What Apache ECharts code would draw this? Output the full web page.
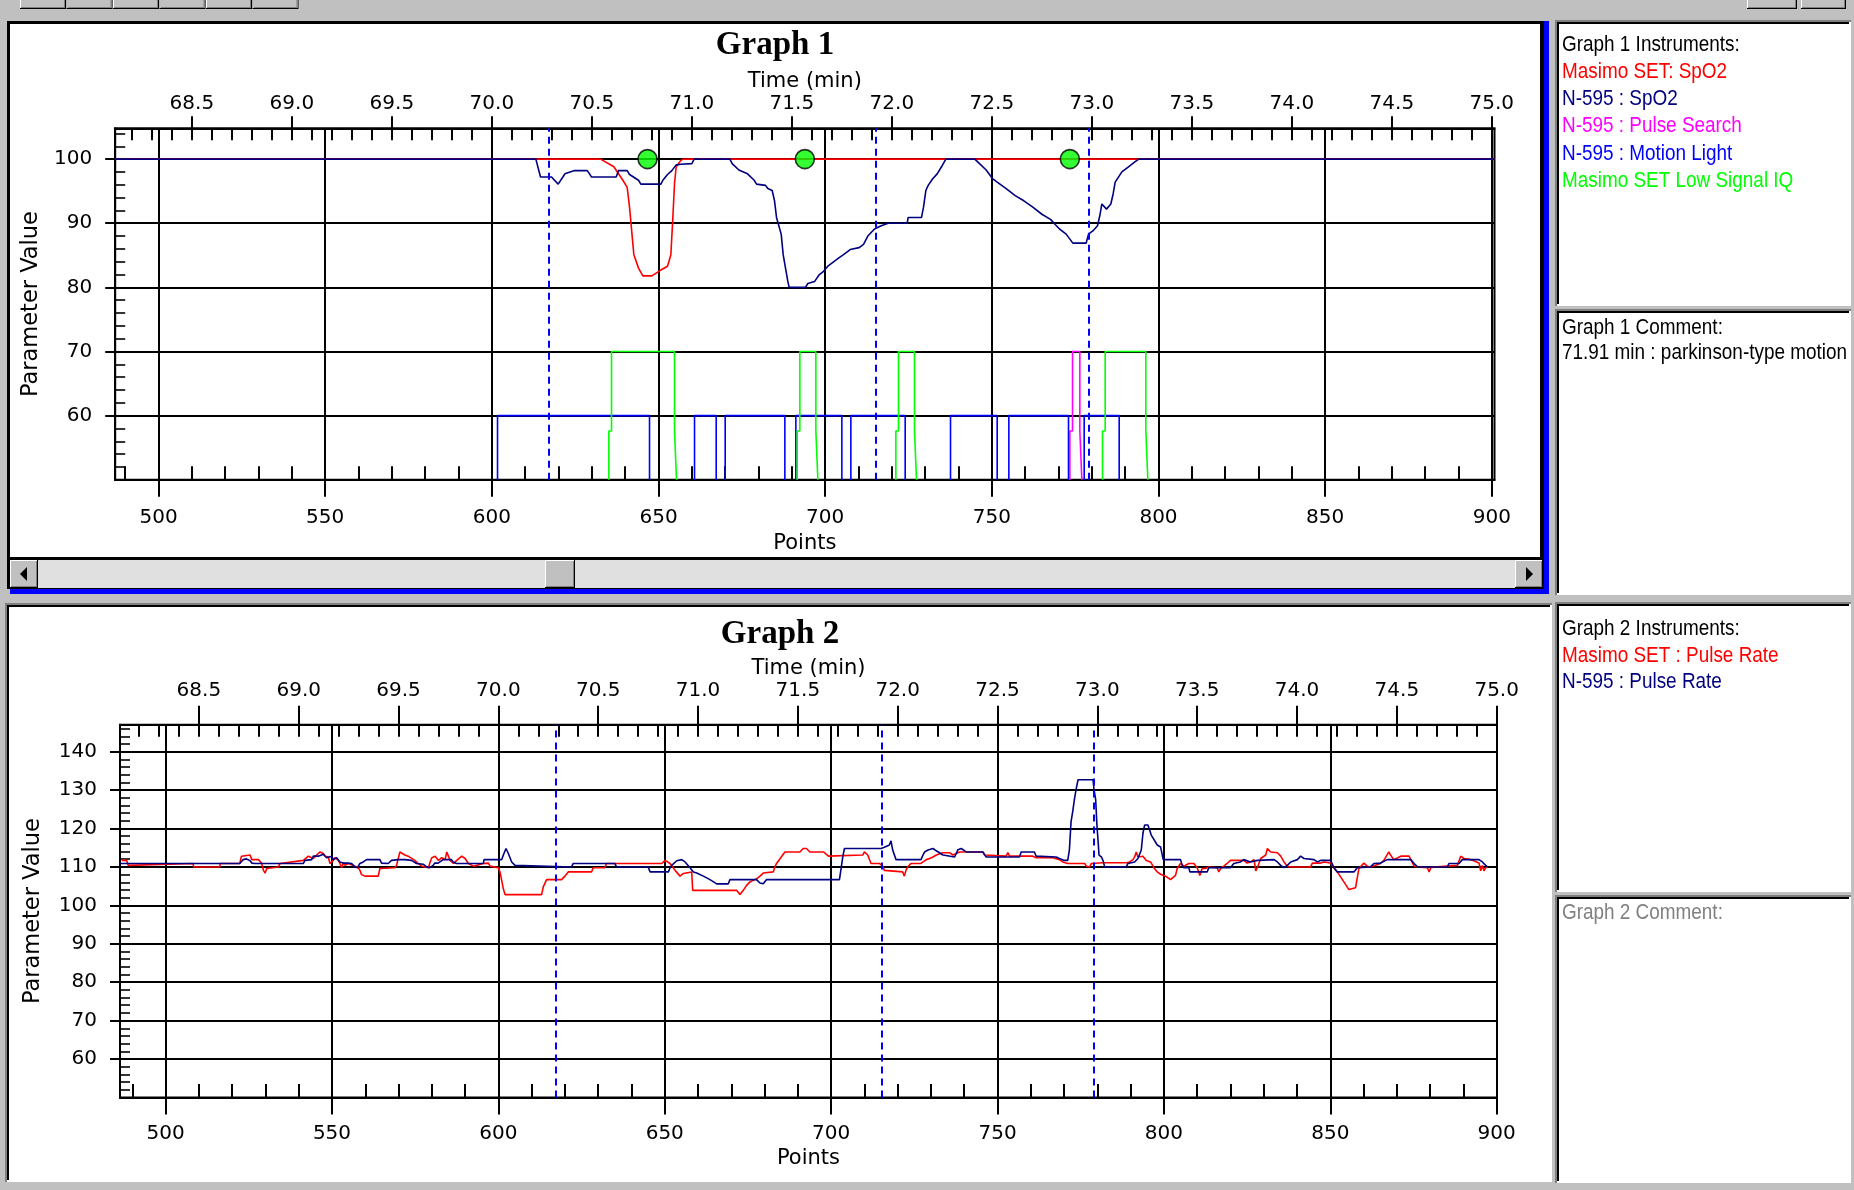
<!DOCTYPE html>
<html><head><meta charset="utf-8">
<script src="https://cdn.jsdelivr.net/npm/echarts@6.0.0/dist/echarts.min.js"></script>
<style>html,body{margin:0;padding:0;background:#c0c0c0;overflow:hidden}#c{width:1854px;height:1190px}</style>
</head><body><div id="c"></div>
<script>
// ---------------- DATA ----------------
const pointTicks = [500, 550, 600, 650, 700, 750, 800, 850, 900];
const timeTickLabels = ['68.5','69.0','69.5','70.0','70.5','71.0','71.5','72.0','72.5','73.0','73.5','74.0','74.5','75.0'];
const spo2Ticks = [60, 70, 80, 90, 100];
const prTicks = [60, 70, 80, 90, 100, 110, 120, 130, 140];

// Graph 1 : SpO2 traces [point, value]
const masimoSpO2 = [[487,100],[632.6,100],[636.6,98.8],[639.3,96.7],[640.6,95.6],[641.3,92.5],[642.6,85.1],[644,83],[645.3,81.8],[648,81.8],[650.7,82.7],[652.7,83.3],[653.7,85.1],[654.3,90.9],[654.8,96.2],[655.3,98.8],[656.7,99.8],[657.4,100],[900.8,100]];
const n595SpO2 = [[487,100],[613.2,100],[614.6,97.2],[617.9,97.2],[619.9,96.1],[621.3,97.2],[621.9,97.7],[624.6,98.2],[628.6,98.2],[629.3,97.7],[629.9,97.2],[637.3,97.2],[638,98.2],[640.6,98.2],[641.3,97.6],[644,96.7],[644.7,96.1],[650.7,96.1],[651.3,96.7],[652.7,97.6],[654,98.2],[655.3,99.1],[656.7,99.2],[660,99.3],[660.7,100],[671.4,100],[672.1,99.3],[674.1,98.3],[676.7,97.7],[678.7,96.7],[679.4,96.1],[682.1,95.9],[682.8,95.4],[684.1,95.1],[684.8,93.5],[685.4,90.9],[686.8,88.3],[687.4,85.1],[688.1,83],[688.8,80.9],[689.2,80],[694.1,80],[694.8,80.6],[696.8,80.9],[698.1,81.9],[699.5,82.5],[700.8,83.3],[702.8,84.1],[704.1,84.6],[705.5,85.1],[707.5,85.9],[710.2,86.2],[711.5,86.7],[712.8,88],[714.8,89.1],[716.8,89.6],[718.9,90],[724.6,90],[724.9,90.9],[728.9,90.9],[729.5,92.5],[730.2,95.1],[730.9,95.9],[732.2,96.9],[733.6,97.7],[734.9,98.8],[736.2,100],[744.9,100],[746.3,99.3],[748.3,98.3],[750.3,96.9],[751.6,96.4],[754.3,95.4],[757,94.3],[759.6,93.5],[762.3,92.5],[765,91.4],[767.6,90.6],[769,89.8],[770.3,89.1],[772.3,88.3],[774.3,86.9],[778.3,86.9],[779,88.3],[780.3,88.8],[781.7,89.6],[782.4,91.2],[783,93],[784.4,92.2],[785.7,93],[786.4,94.6],[787,96.4],[789,98],[791,98.8],[793,99.6],[794.1,100],[900.8,100]];

// Graph 1 : on/off indicators, [start point, end point] of each "on" period
const motionLightOn = [[601.7,647.3],[660.8,667.3],[670.0,687.9],[691.2,705.0],[707.7,724.0],[737.6,751.6],[755.1,773.0],[777.7,788.2]];
const lowSignalIQOn = [[635.1,654.8],[691.6,697.2],[721.2,726.8],[783.2,796.2]];
const pulseSearchOn = [[773.4,776.4]];
const alarmPoints = [646.7, 693.9, 773.4];
const eventMarks = [617.2, 715.2, 779.0];

// Graph 2 : pulse rate traces [point, value]
const masimoPR = [[486.8,111.7],[488.3,111.7],[488.8,110.4],[489.3,110.9],[508.3,110.9],[508.4,110],[516.3,110],[516.4,110.9],[522.3,110.9],[522.8,112.8],[523.3,113.1],[525.4,113.1],[525.9,111.9],[527.9,111.9],[528.9,110.9],[529.4,109.1],[529.9,108.4],[530.4,109.6],[530.9,110],[533.9,110],[534.4,110.9],[541.4,111.7],[542.9,112.8],[544.4,112.2],[544.9,111.7],[545.4,113.1],[545.9,112.6],[546.4,113.9],[547.4,113.5],[547.9,112.8],[548.9,112.6],[549.4,110.9],[550.4,111.7],[550.9,112.4],[551.4,112.8],[551.9,111.7],[552.4,110.9],[552.9,109.8],[553.4,111],[553.9,110.4],[554.9,110.9],[556.9,110.2],[557.9,109.8],[558.4,109.1],[558.9,108],[559.9,107.6],[563.9,107.6],[564.4,109.6],[564.9,109.8],[568.9,109.8],[569.4,110.4],[570.4,113.9],[571.9,113.1],[572.9,112.8],[574.9,111.7],[575.9,110.9],[577,110.2],[579,109.8],[579.5,111.3],[580,112.4],[581,112.8],[582,111.7],[583,112.4],[584,111.9],[584.5,113.9],[585,113.5],[585.5,111.7],[586.5,110.9],[587.5,111.7],[589,112.8],[590,112.2],[591,110.9],[592.5,110.2],[595.5,110.9],[597,111],[597.5,110.2],[600,109.8],[600.5,108.7],[601,106.5],[601.5,104.3],[602,102.8],[613,102.8],[613.5,104.8],[614.5,106.7],[619,106.7],[620,107.6],[621,108.7],[628,108.7],[628.5,109.8],[632,109.8],[632.5,110.9],[649.1,110.9],[650.1,111.7],[651.6,110.9],[653.1,109.1],[654.6,107.6],[655.6,108.3],[658.1,108.7],[658.4,103.9],[671.6,103.9],[672.6,102.8],[673.6,103.9],[674.6,105.2],[675.6,106.1],[676.6,106.5],[677.6,106.9],[678.6,107.6],[679.6,108.4],[682.6,108.7],[683.1,110],[683.6,110.9],[686.1,113.9],[690.6,113.9],[691.6,114.8],[692.6,114.8],[693.6,113.9],[697.7,113.9],[699.2,112.8],[709.5,113.1],[710,113.9],[711,113.1],[712,110.9],[714.5,110.9],[715.5,110.2],[716,109.1],[716.5,108.7],[721.5,108.7],[722,107.6],[722.5,109.1],[723,110],[724,110.9],[727,110.9],[727.6,111.3],[728.6,111.9],[729.6,112.2],[730.6,112.6],[731.6,113.1],[733.6,113.7],[735.6,113.7],[736.6,113.1],[737.1,112.6],[737.6,113.5],[738.6,113.9],[745.6,113.9],[746.1,113.1],[752.6,112.8],[753.1,113.7],[753.6,112.8],[760.6,112.8],[761.6,112.4],[766.6,112.4],[768.6,111.9],[769.6,111.3],[771.1,110.9],[776.2,110.9],[776.7,110.2],[777.7,110],[778.2,110.9],[781.7,111.1],[788.7,111.1],[789.7,111.3],[790.7,111.9],[791.2,112.6],[791.7,113.9],[792.2,112.6],[792.7,113.1],[793.7,112.8],[794.7,111.7],[796,111.3],[797,109.8],[798,108.7],[799,108.1],[800.5,107.6],[802,106.7],[802.5,106.7],[803.5,107.8],[804,109.6],[805,110.9],[806,110.2],[807.5,110.9],[809,110.9],[810,109.8],[810.8,107.8],[811.5,109.6],[812.5,109.6],[813.5,110],[816,109.8],[816.5,108.7],[817.2,109.8],[818,110.2],[819,110.9],[820,111.7],[824,111.7],[825,111],[826,111.3],[827.1,111.9],[827.6,109],[828.1,109.8],[829.1,112.2],[830.6,113.1],[831.1,114.8],[832.1,113.9],[834.1,113.7],[835.1,112.8],[836.1,111.3],[837.1,110.2],[838.1,110],[844.1,110],[844.6,111],[847.1,111],[848.1,111.3],[850.1,111],[851.1,109.8],[852.1,108.7],[853.1,107.4],[854.1,106.1],[855.6,104.1],[856.1,104.3],[857.6,104.6],[858.6,109.6],[859.1,110],[860.1,111],[861.1,110.2],[862.1,110],[865.1,110.9],[866.1,111.7],[866.6,112.2],[867.6,113.9],[868.1,113.1],[869.1,111.9],[871.2,112.8],[873.7,112.8],[874.2,111.9],[875.2,110.2],[876.2,110],[879.2,109.8],[879.7,108.7],[880.2,109.8],[881.2,110],[888.2,110.4],[889.2,112.8],[890.2,112.2],[892.2,111.9],[894.7,111],[895.2,109],[895.7,110.4],[896.2,109],[896.7,109.8],[897.2,110]];
const n595PR = [[486.3,110.9],[522.3,110.9],[523.3,111.9],[524.3,112.1],[525.4,111.6],[525.9,111],[526.9,110.9],[541.4,110.9],[541.9,111.7],[543.9,111.9],[544.4,112.8],[545.9,112.8],[546.4,113.3],[547.4,113.3],[548.4,112.4],[549.9,112.8],[550.4,111.9],[550.9,111.7],[551.4,112.4],[551.9,111.9],[552.4,111.3],[553.4,111],[554.9,111],[555.9,110.9],[556.9,110],[557.7,109.8],[558.4,110.9],[559.4,111.3],[560.4,111.9],[564.4,111.9],[564.9,111],[566.9,110.9],[567.9,111.7],[569.9,111.9],[571.9,111.9],[573.9,111.7],[575.4,110.9],[577.4,110.7],[578.4,110],[579.4,109.8],[580.4,110.4],[580.9,111],[581.9,111],[583.4,111.9],[585.9,111.9],[586.4,111.3],[587.4,110.9],[595.5,110.9],[595.7,111.9],[601,111.9],[601.5,113.1],[602.3,114.8],[603,113.5],[604,111.3],[605,110.4],[605.5,110],[622,110],[622.5,110.9],[635,110.9],[635.5,110],[645,110],[645.6,108.7],[651.1,108.7],[651.6,109.8],[652.1,110.4],[653.6,111.6],[655.1,111.9],[656.1,111.3],[657.6,109.8],[658.6,108.7],[659.6,108.4],[661.6,107.6],[663.6,106.7],[665.6,105.6],[669.1,105.6],[669.6,106.7],[677.6,106.7],[678.6,105.8],[679.6,105.6],[680.6,106.7],[702.5,106.7],[703,109.6],[703.5,112.6],[704,114.8],[715,114.8],[716,115.1],[717.5,115.7],[718,116.8],[718.5,114.4],[719.5,111.9],[727,111.9],[727.6,113.1],[728.1,113.9],[729.1,114.4],[730.6,114.8],[731.6,114.2],[733.6,113.1],[734.1,112.6],[737.1,112.6],[737.6,113.5],[738.1,114.5],[739.1,114.8],[739.6,114.4],[740.6,113.9],[745.6,113.9],[746.6,112.6],[756.6,112.6],[757.1,113.9],[761.1,113.9],[761.6,112.8],[767.6,112.6],[768.6,112.2],[770.1,111.7],[771.1,111.7],[771.6,114.4],[772.1,121.8],[772.6,124.4],[773.1,127.5],[773.6,130.1],[774.2,132.7],[778.7,132.7],[779,130.1],[779.5,127.5],[779.9,120.5],[780.2,117],[780.5,113.1],[781.2,112.6],[781.7,111.7],[782.2,110],[788.7,110],[789.2,110.9],[791.2,111.3],[792.2,112.2],[793.2,114.4],[793.7,118.7],[794.2,120.9],[795.2,120.9],[795.7,119.6],[796.2,118.3],[798,115.7],[799,115.2],[799.8,111.9],[805,111.9],[805.5,110.4],[806,109.8],[807.5,109.8],[807.8,108.7],[813,108.7],[813.5,109.8],[820,109.8],[821,110.9],[823,111.3],[824,111.9],[826,111.3],[828.1,111.7],[833.1,111.9],[834.1,111.3],[835.1,110.4],[836.1,109.8],[837.1,110.4],[838.1,111.3],[840.1,111.9],[841.1,112.8],[842.1,112.2],[845.1,111.9],[846.1,111.3],[847.1,111.7],[850.1,111.7],[851.1,109.8],[852.1,108.7],[857.1,108.7],[858.1,109.8],[862.1,110],[863.1,110.9],[865.1,111],[867.1,111.9],[874.2,111.9],[875.2,110.9],[876.2,110],[885.2,110],[885.7,110.9],[888.7,110.9],[889.7,111.9],[894.7,111.9],[895.7,111.3],[896.7,110.4],[897.2,110]];

// ---------------- HELPERS ----------------
const FONT = 'DejaVu Sans';
const timeTickPoints = timeTickLabels.map(t => Math.round((parseFloat(t) - 60) * 60));
function range(a, b, s) { const r = []; for (let v = a; v <= b + 1e-9; v += s) r.push(+v.toFixed(3)); return r; }

function pulses(intervals, level, jog) {
  const d = [];
  intervals.forEach(([a, b]) => {
    if (jog) d.push([a,50],[a,57.6],[a+0.8,57.6],[a+0.8,level],[b,level],[b,57.6],[b+0.6,57.6],[b+0.6,50]);
    else d.push([a,50],[a,level],[b,level],[b,50]);
    d.push([b, '-']);
  });
  return d;
}

const xAxes = [], yAxes = [];
const black = {color: '#000', width: 2};
const hidden = {type:'value', splitLine:{show:false}, axisLabel:{show:false}, axisTick:{show:false}, axisLine:{show:false}};
function addAxes(gi, xr, yr, yMajor, yMinorMax, c) {
  // bottom: points
  xAxes.push(Object.assign({}, hidden, {gridIndex: gi, min: xr[0], max: xr[1], position: 'bottom',
    axisLine: {show: true, onZero: false, lineStyle: black},
    axisTick: {show: true, customValues: pointTicks, length: 17, lineStyle: black},
    axisLabel: {show: true, customValues: pointTicks, margin: c.bottomLabelMargin, color: '#000', fontFamily: FONT, fontSize: 20},
    splitLine: {show: true, lineStyle: black},
    name: 'Points', nameLocation: 'middle', nameGap: c.pointsGap,
    nameTextStyle: {color: '#000', fontFamily: FONT, fontSize: 21}}));
  xAxes.push(Object.assign({}, hidden, {gridIndex: gi, min: xr[0], max: xr[1], position: 'bottom',
    axisTick: {show: true, inside: true, customValues: range(490, 900, 10), length: 13.5, lineStyle: black}}));
  // top: time (min)
  xAxes.push(Object.assign({}, hidden, {gridIndex: gi, min: xr[0], max: xr[1], position: 'top',
    axisLine: {show: true, onZero: false, lineStyle: black},
    axisTick: {show: true, customValues: timeTickPoints, length: c.topTickLen, lineStyle: black},
    axisLabel: {show: true, customValues: timeTickPoints, margin: c.topLabelMargin, color: '#000', fontFamily: FONT, fontSize: 20,
      formatter: v => timeTickLabels[timeTickPoints.indexOf(Math.round(v))] || ''},
    name: 'Time (min)', nameLocation: 'middle', nameGap: c.timeGap,
    nameTextStyle: {color: '#000', fontFamily: FONT, fontSize: 21}}));
  xAxes.push(Object.assign({}, hidden, {gridIndex: gi, min: xr[0], max: xr[1], position: 'top',
    axisTick: {show: true, inside: true, customValues: range(492, 900, 6), length: 12, lineStyle: black}}));
  // left: parameter value
  yAxes.push(Object.assign({}, hidden, {gridIndex: gi, min: yr[0], max: yr[1], position: 'left',
    axisLine: {show: true, onZero: false, lineStyle: black},
    axisTick: {show: true, customValues: yMajor, length: 10, lineStyle: black},
    axisLabel: {show: true, customValues: yMajor, margin: 23, color: '#000', fontFamily: FONT, fontSize: 20},
    splitLine: {show: true, lineStyle: black},
    name: 'Parameter Value', nameLocation: 'middle', nameGap: c.yGap,
    nameTextStyle: {color: '#000', fontFamily: FONT, fontSize: 22.5}}));
  yAxes.push(Object.assign({}, hidden, {gridIndex: gi, min: yr[0], max: yr[1], position: 'left',
    axisTick: {show: true, inside: true, customValues: range(52, yMinorMax, 2), length: 10, lineStyle: {color:'#000', width: 1.6}}}));
}
addAxes(0, [487, 900.8], [50, 104.8], spo2Ticks, 104,
  {pointsGap: 53, bottomLabelMargin: 28, topTickLen: 12, topLabelMargin: 15, timeGap: 36, yGap: 72});
addAxes(1, [486.3, 900.1], [50, 147], prTicks, 146,
  {pointsGap: 51, bottomLabelMargin: 26, topTickLen: 19, topLabelMargin: 24, timeGap: 46, yGap: 75});

const eventLine = {silent: true, symbol: ['none','none'], label: {show: false}, emphasis: {disabled: true},
  lineStyle: {color: '#0000ff', type: [7, 5], width: 2}, data: eventMarks.map(v => ({xAxis: v}))};
function ln(name, data, color, xi, yi, z, extra) {
  return Object.assign({type: 'line', name, data, xAxisIndex: xi, yAxisIndex: yi, showSymbol: false, symbol: 'none',
    connectNulls: false, z, lineStyle: {color, width: 1.6}, itemStyle: {color}, emphasis: {disabled: true}}, extra || {});
}
const series = [
  ln('Masimo SET: SpO2', masimoSpO2, '#ff0000', 0, 0, 3, {markLine: eventLine}),
  ln('N-595 : Motion Light', pulses(motionLightOn, 60, false), '#0000ff', 0, 0, 3),
  ln('Masimo SET Low Signal IQ', pulses(lowSignalIQOn, 70, true), '#00ff00', 0, 0, 3),
  ln('N-595 : Pulse Search', pulses(pulseSearchOn, 70, true), '#ff00ff', 0, 0, 3),
  ln('N-595 : SpO2', n595SpO2, '#000080', 0, 0, 4),
  {type: 'scatter', name: 'alarm', xAxisIndex: 0, yAxisIndex: 0, z: 6, symbol: 'circle', symbolSize: 19,
   data: alarmPoints.map(x => [x, 100]), itemStyle: {color: '#00ff00', borderColor: '#000', borderWidth: 1.6}, emphasis: {disabled: true}},
  ln('Masimo SET : Pulse Rate', masimoPR, '#ff0000', 4, 2, 3, {markLine: eventLine}),
  ln('N-595 : Pulse Rate', n595PR, '#000080', 4, 2, 4)
];

// ---------------- WINDOW CHROME (graphic) ----------------
const G = [];
function rect(x, y, w, h, fill, z) { G.push({type: 'rect', silent: true, z: z == null ? -10 : z, shape: {x, y, width: w, height: h}, style: {fill}}); }
function txt(x, y, t, fill, opt) {
  opt = opt || {};
  G.push({type: 'text', silent: true, z: 10, x, y, scaleX: opt.sx || 1,
    style: {text: t, fill, fontFamily: opt.ff || 'Liberation Sans', fontSize: opt.fs || 22, fontWeight: opt.fw || 'normal',
      align: opt.align || 'left', verticalAlign: 'middle'}});
}
function button(x, y, w, h) {
  rect(x, y, w, h, '#000', -9); rect(x, y, w - 1, h - 1, '#fff', -9);
  rect(x + 1, y + 1, w - 2, h - 2, '#808080', -9); rect(x + 1, y + 1, w - 3, h - 3, '#c0c0c0', -9);
}
function sunken(x, y, w, h) {
  rect(x, y, w, h, '#808080'); rect(x + 2, y + 2, w - 2, h - 2, '#fff');
  rect(x + 2, y + 2, w - 4, h - 4, '#000'); rect(x + 4, y + 4, w - 6, h - 6, '#fff');
}
// top toolbar remnants
for (let i = 0; i < 6; i++) button(20 + i * 46.5, -20, 46, 29);
button(1747, -20, 50, 29); button(1801, -20, 45, 29);
// Graph 1 panel (selected)
rect(7, 21, 1537, 568, '#000');
rect(10, 24, 1530, 533, '#fff');
rect(10, 560, 1533, 28, '#e0e0e0');
button(10, 560, 28, 28); button(1515, 560, 28, 28); button(545, 560, 30, 28);
G.push({type: 'polygon', silent: true, z: -8, shape: {points: [[20, 574], [27, 567], [27, 581]]}, style: {fill: '#000'}});
G.push({type: 'polygon', silent: true, z: -8, shape: {points: [[1533, 574], [1526, 567], [1526, 581]]}, style: {fill: '#000'}});
rect(1544, 21, 5, 573, '#0000ff');
rect(10, 589, 1539, 5, '#0000ff');
// Graph 2 panel
sunken(5, 603, 1547, 579);
// right side boxes
sunken(1555, 20, 296, 286);
sunken(1555, 309, 296, 286);
sunken(1555, 602, 296, 290);
sunken(1555, 895, 296, 288);
// titles
txt(775, 45, 'Graph 1', '#000', {ff: 'Liberation Serif', fs: 33, fw: 'bold', align: 'center'});
txt(780, 634, 'Graph 2', '#000', {ff: 'Liberation Serif', fs: 33, fw: 'bold', align: 'center'});
// side texts
const sx = 0.86;
txt(1562, 45, 'Graph 1 Instruments:', '#000', {sx});
txt(1562, 72, 'Masimo SET: SpO2', '#ff0000', {sx});
txt(1562, 99, 'N-595 : SpO2', '#000080', {sx});
txt(1562, 126, 'N-595 : Pulse Search', '#ff00ff', {sx});
txt(1562, 153.5, 'N-595 : Motion Light', '#0000ff', {sx});
txt(1562, 181, 'Masimo SET Low Signal IQ', '#00ff00', {sx});
txt(1562, 327.5, 'Graph 1 Comment:', '#000', {sx});
txt(1562, 352.5, '71.91 min : parkinson-type motion', '#000', {sx});
txt(1562, 628.5, 'Graph 2 Instruments:', '#000', {sx});
txt(1562, 655.5, 'Masimo SET : Pulse Rate', '#ff0000', {sx});
txt(1562, 681.5, 'N-595 : Pulse Rate', '#000080', {sx});
txt(1562, 912.5, 'Graph 2 Comment:', '#808080', {sx});

const option = {
  animation: false,
  backgroundColor: '#c0c0c0',
  graphic: {elements: G},
  grid: [
    {left: 115.2, top: 128.3, width: 1379.3, height: 351.5, show: true, backgroundColor: '#fff', borderColor: '#000', borderWidth: 2},
    {left: 120, top: 724.8, width: 1377, height: 372.6, show: true, backgroundColor: '#fff', borderColor: '#000', borderWidth: 2}
  ],
  xAxis: xAxes,
  yAxis: yAxes,
  series
};
const chart = echarts.init(document.getElementById('c'), null, {renderer: 'canvas', width: 1854, height: 1190});
chart.setOption(option);
</script></body></html>
